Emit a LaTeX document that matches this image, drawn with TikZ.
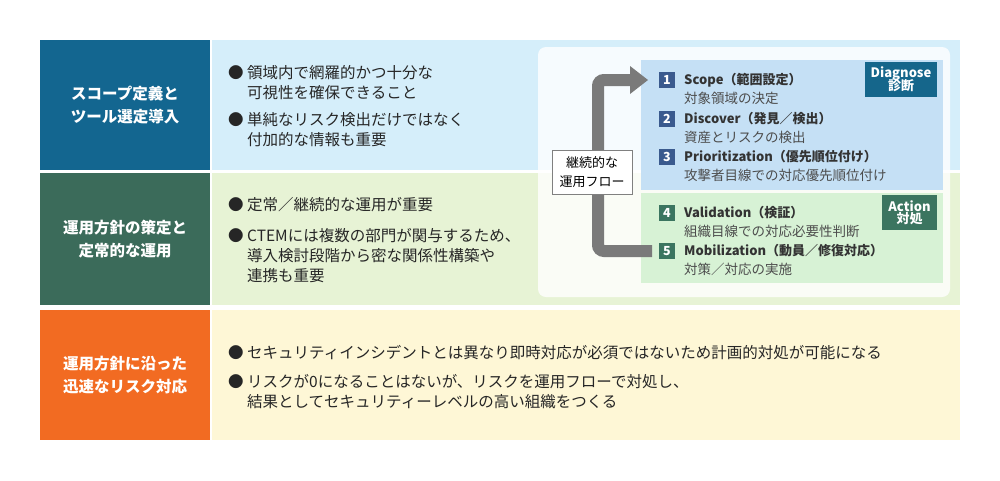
\documentclass[tikz,border=0pt]{standalone}
\usepackage{fontspec}
\setmainfont{Noto Sans CJK JP}
\definecolor{dblue}{HTML}{136690}
\definecolor{lblue}{HTML}{D5EEFA}
\definecolor{dgreen}{HTML}{3B6B5A}
\definecolor{lgreen}{HTML}{E7F3D5}
\definecolor{orng}{HTML}{F26B22}
\definecolor{lyel}{HTML}{FEF7D6}
\definecolor{bbox}{HTML}{C5E0F5}
\definecolor{gbox}{HTML}{D7F2D5}
\definecolor{dlab}{HTML}{15668B}
\definecolor{alab}{HTML}{3B7560}
\definecolor{nblue}{HTML}{3A5A8E}
\definecolor{agray}{HTML}{7A7A7A}
\begin{document}
\begin{tikzpicture}[x=1pt,y=-1pt,
 lefttxt/.style={text=white,font=\fontsize{15.5}{23}\selectfont\bfseries,align=center},
 body/.style={anchor=west,font=\fontsize{15.5}{20}\selectfont,text=black!85,align=left,inner sep=0},
 num/.style={fill=#1,text=white,minimum size=16pt,inner sep=0,font=\fontsize{12.5}{12.5}\selectfont\bfseries},
 ttl/.style={anchor=west,font=\fontsize{13}{15}\selectfont\bfseries,text=black!80,inner sep=0},
 sub/.style={anchor=west,font=\fontsize{13.5}{15}\selectfont,text=black!70,inner sep=0},
 tag/.style={fill=#1,text=white,font=\fontsize{13}{14}\selectfont\bfseries,align=center,inner sep=0}]
\useasboundingbox (0,0) rectangle (1000,480);
\fill[white] (0,0) rectangle (1000,480);
% rows
\fill[dblue] (40,40) rectangle (210,170); \fill[lblue] (212,40) rectangle (960,170);
\fill[dgreen] (40,173) rectangle (210,305); \fill[lgreen] (212,173) rectangle (960,305);
\fill[orng] (40,310) rectangle (210,440); \fill[lyel] (212,310) rectangle (960,440);
\node[lefttxt] (l1) at (125,105) {スコープ定義と\\ツール選定導入};
\node[lefttxt] (l2) at (125,239) {運用方針の策定と\\定常的な運用};
\node[lefttxt] (l3) at (125,375) {運用方針に沿った\\迅速なリスク対応};
\node[body] (t1) at (228,83) {● 領域内で網羅的かつ十分な\\\phantom{● }可視性を確保できること};
\node[body] (t2) at (228,130) {● 単純なリスク検出だけではなく\\\phantom{● }付加的な情報も重要};
\node[body] (t3) at (228,205) {● 定常／継続的な運用が重要};
\node[body] (t4) at (228,256) {● CTEMには複数の部門が関与するため、\\\phantom{● }導入検討段階から密な関係性構築や\\\phantom{● }連携も重要};
\node[body] (t5) at (228,353) {● セキュリティインシデントとは異なり即時対応が必須ではないため計画的対処が可能になる};
\node[body] (t6) at (228,392) {● リスクが0になることはないが、リスクを運用フローで対処し、\\\phantom{● }結果としてセキュリティーレベルの高い組織をつくる};
% panel
\fill[white,opacity=0.8,rounded corners=8pt] (538,47) rectangle (950,297);
\fill[bbox] (641,60) rectangle (943,190);
\fill[gbox] (641,193) rectangle (943,283);
\node[tag=dlab,minimum width=72pt,minimum height=35pt] (dg) at (901,79.5) {Diagnose\\[-2pt]診断};
\node[tag=alab,minimum width=55pt,minimum height=35pt] (ac) at (909.5,212.5) {Action\\[-2pt]対処};
% arrow
\coordinate (ab) at (652,251);
\coordinate (at) at (648,80);
\draw[agray,line width=12pt,rounded corners=6pt] (ab) -- (598,251) -- (598,80) -- (630,80);
\fill[agray] (630,66) -- (648,80) -- (630,94) -- cycle;
\node[draw=black!50,fill=white,font=\fontsize{13}{19}\selectfont,align=center,minimum width=80pt,minimum height=44pt,inner sep=0] (flow) at (592,172) {継続的な\\運用フロー};
% steps
\foreach \n/\y/\c/\a/\b in {1/80/nblue/{Scope（範囲設定）}/{対象領域の決定},
 2/119/nblue/{Discover（発見／検出）}/{資産とリスクの検出},
 3/157/nblue/{Prioritization（優先順位付け）}/{攻撃者目線での対応優先順位付け},
 4/213/alab/{Validation（検証）}/{組織目線での対応必要性判断},
 5/251/alab/{Mobilization（動員／修復対応）}/{対策／対応の実施}}{
 \node[num=\c] (n\n) at (667,\y) {\n};
 \node[ttl] (s\n) at (684,\y) {\a};
 \node[sub] (u\n) at (684,\y+18) {\b};
}
\end{tikzpicture}
\end{document}
